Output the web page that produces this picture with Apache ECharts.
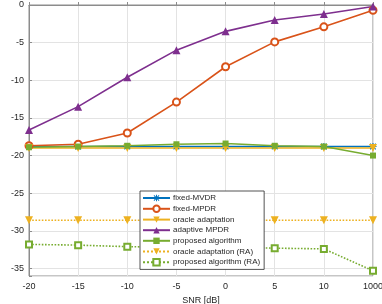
<!DOCTYPE html>
<html><head><meta charset="utf-8">
<script src="https://cdn.jsdelivr.net/npm/echarts@6/dist/echarts.min.js"></script>
<style>html,body{margin:0;padding:0;background:#fff}#c{width:382px;height:304px}</style>
</head><body><div id="c"></div>
<script>
const snrLabels = ['-20','-15','-10','-5','0','5','10','1000'];
const fixedMVDR = [-18.8,-18.8,-18.8,-18.8,-18.8,-18.8,-18.8,-18.8];
const fixedMPDR = [-18.7,-18.5,-17.0,-12.9,-8.2,-4.9,-2.9,-0.7];
const oracleAdapt = [-19.0,-19.0,-19.0,-19.0,-19.0,-19.0,-19.0,-19.0];
const adaptiveMPDR = [-16.6,-13.5,-9.6,-6.0,-3.5,-2.0,-1.2,-0.2];
const proposed = [-18.9,-18.8,-18.7,-18.5,-18.4,-18.7,-18.8,-20.0];
const oracleRA = [-28.6,-28.6,-28.6,-28.6,-28.6,-28.6,-28.6,-28.6];
const proposedRA = [-31.8,-31.9,-32.1,-32.2,-32.2,-32.3,-32.4,-35.3];

const C = {blue:'#0072BD', orange:'#D95319', yellow:'#EDB120', purple:'#7E2F8E', green:'#77AC30'};
const asterisk = 'path://M3.4,0H4.6V8H3.4Z M0,3.4H8V4.6H0Z M1.2,0.4L7.6,6.8L6.8,7.6L0.4,1.2Z M6.8,0.4L7.6,1.2L1.2,7.6L0.4,6.8Z';
const axisCol = '#262626';
const frameCol = '#8c8c8c';

function s(name, data, color, symbol, opts) {
  opts = opts || {};
  return {
    name, type:'line', data, symbol, symbolSize: opts.size || 7,
    symbolRotate: opts.rot || 0,
    lineStyle:{color, width: opts.lw || 1.6, type: opts.dash || 'solid'},
    itemStyle:{color, borderWidth: opts.bw || 1.2},
    animation:false
  };
}

const chart = echarts.init(document.getElementById('c'));
chart.setOption({
  animation:false,
  textStyle:{fontFamily:'Liberation Sans, Arial, sans-serif'},
  grid:{left:29, right:9, top:5, bottom:28, show:true, borderColor:frameCol, borderWidth:1,
    containLabel:false, outerBoundsMode:'none'},
  xAxis:{type:'category', data:snrLabels, boundaryGap:false,
    name:'SNR [dB]', nameLocation:'middle', nameGap:15,
    nameTextStyle:{fontSize:9, color:axisCol},
    axisLine:{lineStyle:{color:frameCol}},
    axisTick:{inside:true, length:3, lineStyle:{color:frameCol}},
    axisLabel:{fontSize:9, color:axisCol, margin:6},
    splitLine:{show:true, lineStyle:{color:'#e3e3e3', width:1}}
  },
  yAxis:{type:'value', min:-36, max:0, splitNumber:7,
    name:'Distortion [dB]', nameLocation:'middle', nameGap:19,
    nameTextStyle:{fontSize:9, color:axisCol},
    axisLine:{show:true, lineStyle:{color:frameCol}},
    axisTick:{show:true, inside:true, length:3, lineStyle:{color:frameCol}},
    axisLabel:{fontSize:9, color:axisCol, margin:5,
      formatter: v => (v % 5 === 0 ? String(v) : '')},
    splitLine:{show:true, lineStyle:{color:'#e3e3e3', width:1}}
  },
  legend:{orient:'vertical', left:140, top:191, itemWidth:27, itemHeight:8, itemGap:2.6,
    padding:[3,4,3,2], borderColor:axisCol, borderWidth:0.8, backgroundColor:'#fff',
    textStyle:{fontSize:8, color:axisCol, padding:[0,0,0,-2]},
    data:['fixed-MVDR','fixed-MPDR','oracle adaptation','adaptive MPDR','proposed algorithm','oracle adaptation (RA)','proposed algorithm (RA)']
  },
  series:[
    s('fixed-MVDR', fixedMVDR, C.blue, asterisk, {size:7}),
    s('fixed-MPDR', fixedMPDR, C.orange, 'emptyCircle', {size:7, bw:1.3}),
    s('oracle adaptation', oracleAdapt, C.yellow, 'triangle', {size:8, rot:180}),
    s('adaptive MPDR', adaptiveMPDR, C.purple, 'triangle', {size:8}),
    s('proposed algorithm', proposed, C.green, 'rect', {size:6}),
    s('oracle adaptation (RA)', oracleRA, C.yellow, 'triangle', {size:8, rot:180, dash:'dotted', lw:1.6}),
    s('proposed algorithm (RA)', proposedRA, C.green, 'emptyRect', {size:6, dash:'dotted', lw:1.6})
  ]
});
</script></body></html>
